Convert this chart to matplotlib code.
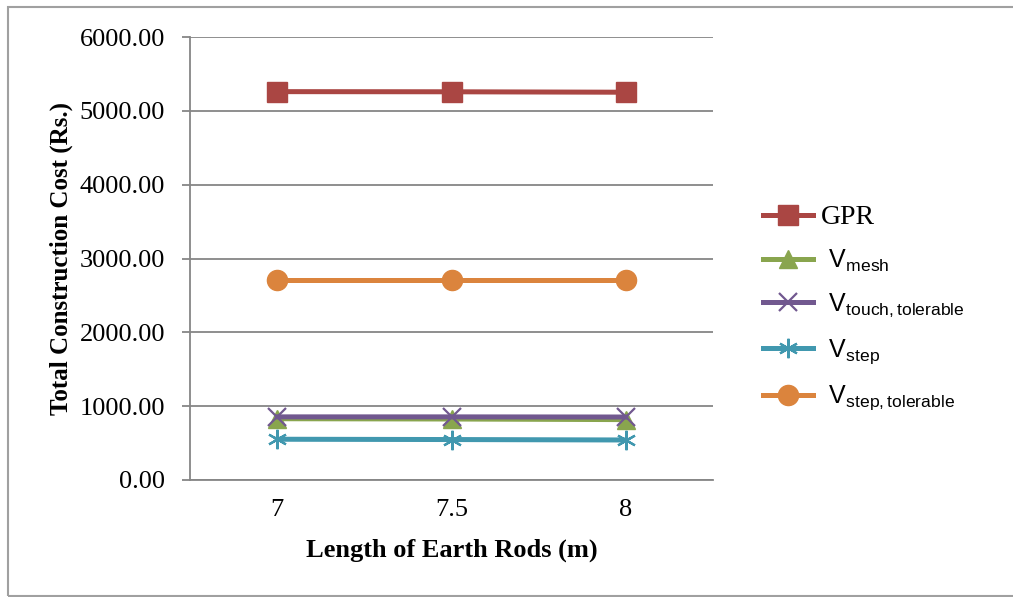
import matplotlib
matplotlib.use("Agg")
import matplotlib.pyplot as plt
from matplotlib.patches import Rectangle

# data
rod_lengths = ["7", "7.5", "8"]
gpr = [5260, 5258, 5252]
v_mesh = [830, 826, 818]
v_touch_tol = [855, 855, 853]
v_step = [552, 548, 542]
v_step_tol = [2705, 2705, 2705]

plt.rcParams['mathtext.fontset'] = 'custom'
plt.rcParams['mathtext.rm'] = 'Liberation Sans'
plt.rcParams['mathtext.it'] = 'Liberation Sans'

fig = plt.figure(figsize=(10.13, 5.97), dpi=100)
W, H = 1013, 597
ax = fig.add_axes([190 / W, 1 - 480 / H, 523 / W, 443 / H])

x = list(range(len(rod_lengths)))
lw = 3.6
l1, = ax.plot(x, gpr, color='#AA4643', lw=lw, marker='s', ms=14.5, zorder=3)
l2, = ax.plot(x, v_mesh, color='#89A54E', lw=lw, marker='^', ms=13, zorder=3)
l3, = ax.plot(x, v_touch_tol, color='#71588F', lw=lw, marker='x', ms=13, mew=1.6, zorder=4)
l4, = ax.plot(x, v_step, color='#4198AF', lw=lw, marker=(6, 2, 0), ms=14, mew=1.6, zorder=3)
l5, = ax.plot(x, v_step_tol, color='#DB843D', lw=lw, marker='o', ms=14.5, zorder=3)

ax.set_xlim(-0.5, len(x) - 0.5)
ax.set_ylim(0, 6000)
ax.set_yticks(range(0, 6001, 1000))
ax.set_yticklabels([f"{v:.2f}" for v in range(0, 6001, 1000)],
                   family='Liberation Serif', fontsize=19)
ax.set_xticks(x)
ax.set_xticklabels(rod_lengths, family='Liberation Serif', fontsize=19)
ax.tick_params(axis='y', length=6, width=1.3, color='#868686', pad=12)
ax.tick_params(axis='x', length=0, pad=14)
ax.grid(axis='y', color='#868686', lw=1.3)
ax.set_axisbelow(True)
for s in ['top', 'right']:
    ax.spines[s].set_visible(False)
for s in ['left', 'bottom']:
    ax.spines[s].set_color('#868686')
    ax.spines[s].set_linewidth(1.3)

ax.set_xlabel("Length of Earth Rods (m)", family='Liberation Serif',
              fontweight='bold', fontsize=19, labelpad=12)
ax.set_ylabel("Total Construction Cost (Rs.)", family='Liberation Serif',
              fontweight='bold', fontsize=18, labelpad=5)

labels = ["GPR",
          r" $\mathrm{V}_{\mathrm{mesh}}$",
          r" $\mathrm{V}_{\mathrm{touch,tolerable}}$",
          r" $\mathrm{V}_{\mathrm{step}}$",
          r" $\mathrm{V}_{\mathrm{step,tolerable}}$"]
leg = fig.legend([l1, l2, l3, l4, l5], labels, loc='upper left',
                 bbox_to_anchor=(740 / W, 1 - 182 / H), frameon=False,
                 fontsize=18, handlelength=2.0, handletextpad=0.35,
                 labelspacing=0.72)
leg.get_texts()[0].set_family('Liberation Serif')
leg.get_texts()[0].set_fontsize(20)

# outer chart border
fig.patches.append(Rectangle((8 / W, 1 / H), 1.1, 1 - 8 / H,
                             transform=fig.transFigure, fill=False,
                             edgecolor='#A0A0A0', lw=1.5))

fig.savefig("out.png", dpi=100)
